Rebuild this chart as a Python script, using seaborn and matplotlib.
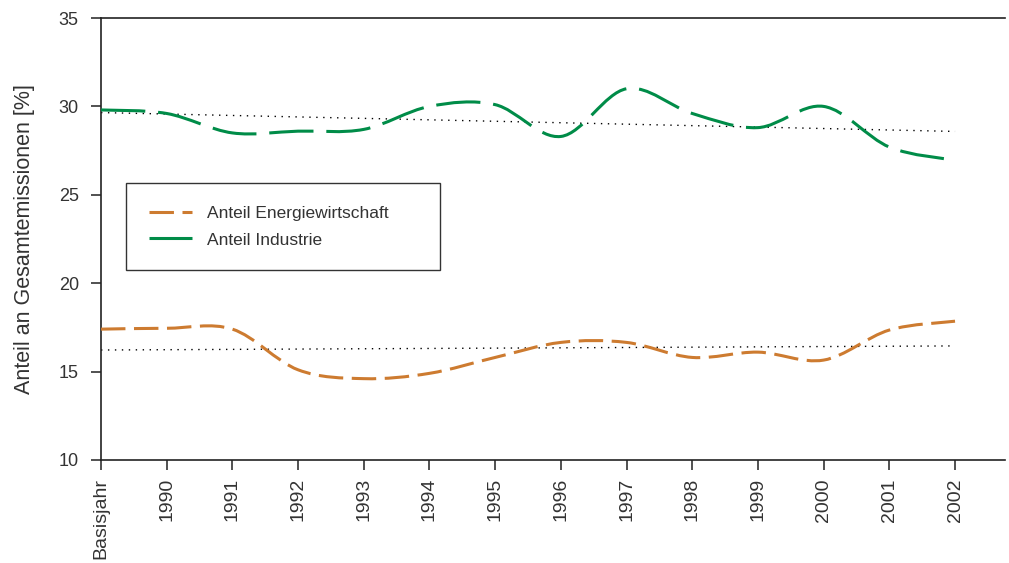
import numpy as np
import matplotlib
matplotlib.use('Agg')
import matplotlib.pyplot as plt
from matplotlib.path import Path
from matplotlib.patches import PathPatch
from matplotlib.lines import Line2D
import seaborn as sns

# Data
years = ['Basisjahr', '1990', '1991', '1992', '1993', '1994', '1995',
         '1996', '1997', '1998', '1999', '2000', '2001', '2002']
energie = [17.4, 17.45, 17.4, 15.1, 14.6, 14.9, 15.8,
           16.65, 16.65, 15.8, 16.1, 15.65, 17.35, 17.85]
industrie = [29.8, 29.6, 28.5, 28.6, 28.7, 30.0, 30.1,
             28.3, 31.0, 29.6, 28.8, 30.0, 27.7, 26.95]

col_energie = '#CD7B30'
col_industrie = '#008C48'

sns.set_style('ticks')
plt.rcParams['font.family'] = ['Liberation Sans', 'DejaVu Sans']


def smooth_path(xs, ys):
    # Catmull-Rom style bezier through the data points (smoothed line look)
    pts = np.column_stack([xs, ys]).astype(float)
    n = len(pts)
    verts = [pts[0]]
    codes = [Path.MOVETO]
    for i in range(n - 1):
        p0 = pts[max(i - 1, 0)]
        p1 = pts[i]
        p2 = pts[i + 1]
        p3 = pts[min(i + 2, n - 1)]
        c1 = p1 + (p2 - p0) / 6
        c2 = p2 - (p3 - p1) / 6
        verts += [c1, c2, p2]
        codes += [Path.CURVE4] * 3
    return Path(verts, codes)


x = np.arange(len(years))

fig, ax = plt.subplots(figsize=(10.09, 5.63), dpi=100)
fig.subplots_adjust(left=0.1001, right=0.996, bottom=0.183, top=0.968)

dash_e = (0, (8.0, 2.8))
dash_i = (0, (14.5, 4.2))

ax.add_patch(PathPatch(smooth_path(x, energie), fill=False, edgecolor=col_energie,
                       lw=2.2, linestyle=dash_e, zorder=3))
ax.add_patch(PathPatch(smooth_path(x, industrie), fill=False, edgecolor=col_industrie,
                       lw=2.2, linestyle=dash_i, zorder=3))

# linear trend lines
for vals in [energie, industrie]:
    sns.regplot(x=x, y=vals, ax=ax, scatter=False, ci=None, truncate=True,
                line_kws=dict(color='black', lw=1.0, linestyle=(0, (1, 4))))

ax.set_xlim(0, 13.76)
ax.set_ylim(10, 35)
ax.set_yticks([10, 15, 20, 25, 30, 35])
ax.set_xticks(x)
ax.set_xticklabels(years, rotation=90, fontsize=14, color='#333333')
ax.tick_params(axis='y', labelsize=13, labelcolor='#333333', length=7, width=1.1,
               color='#222222', pad=9)
ax.tick_params(axis='x', length=7, width=1.1, color='#222222', pad=6)
ax.set_ylabel('Anteil an Gesamtemissionen [%]', fontsize=15.5, labelpad=17,
              color='#333333')

for s in ['left', 'bottom', 'top']:
    ax.spines[s].set_linewidth(1.2)
    ax.spines[s].set_color('#222222')
ax.spines['right'].set_visible(False)

handles = [Line2D([], [], color=col_energie, lw=2.2, linestyle=dash_e),
           Line2D([], [], color=col_industrie, lw=2.2, linestyle=dash_i)]
leg = ax.legend(handles, ['Anteil Energiewirtschaft', 'Anteil Industrie'],
                loc='upper left', bbox_to_anchor=(0.0277, 0.4321, 0.3473, 0.1946),
                mode='expand', fontsize=12.5,
                frameon=True, fancybox=False, edgecolor='black',
                handlelength=2.5, handletextpad=0.85, borderpad=1.3,
                labelspacing=0.67, borderaxespad=0)
leg.get_frame().set_linewidth(1.0)
for t in leg.get_texts():
    t.set_color('#333333')

fig.savefig('out.png', dpi=100)
